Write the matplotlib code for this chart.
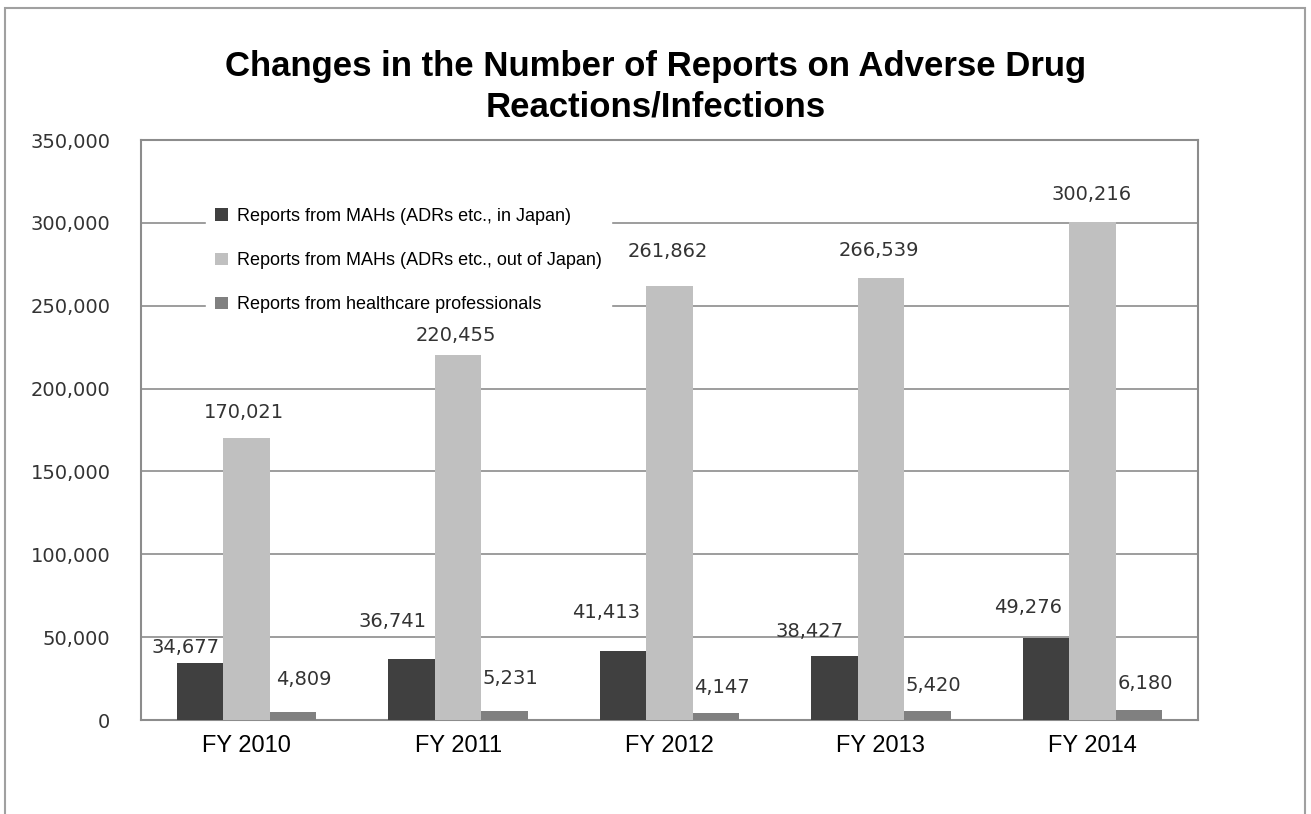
import numpy as np
import matplotlib.pyplot as plt
from matplotlib.patches import Rectangle
from matplotlib.ticker import FuncFormatter

years = ['FY 2010', 'FY 2011', 'FY 2012', 'FY 2013', 'FY 2014']
mah_japan = [34677, 36741, 41413, 38427, 49276]
mah_foreign = [170021, 220455, 261862, 266539, 300216]
hcp = [4809, 5231, 4147, 5420, 6180]
series_names = ['Reports from MAHs (ADRs etc., in Japan)',
                'Reports from MAHs (ADRs etc., out of Japan)',
                'Reports from healthcare professionals']
colors = ['#404040', '#c0c0c0', '#808080']

# hand-placed label offsets in pixels (dx, dy) per series
label_dx = [[-15, -19, -17, -25, -18],
            [-3, -2, -2, -2, -1],
            [11, 6, 6, 6, 7]]
label_dy = [[15, 38, 39, 25, 31],
            [26, 19, 35, 28, 28],
            [33, 33, 26, 26, 26]]

plt.rcParams['font.family'] = ['Liberation Sans', 'DejaVu Sans']
numfont = ['DejaVu Sans']

fig = plt.figure(figsize=(13.11, 8.14), dpi=100)
ax = fig.add_axes([141/1311, 1-720/814, 1057/1311, 580/814])

# outer frame
fig.patches.append(Rectangle((5/1311, -0.1), 1300/1311, 1.1-8/814,
                             transform=fig.transFigure, fill=False,
                             edgecolor='#a0a0a0', lw=1.5))

x = np.arange(len(years))
w = 0.22
series = [mah_japan, mah_foreign, hcp]
for k, vals in enumerate(series):
    xs = x + (k - 1) * w
    ax.bar(xs, vals, width=w, color=colors[k], label=series_names[k], zorder=3)
    for i, (xi, v) in enumerate(zip(xs, vals)):
        ax.annotate(f'{v:,}', (xi, v), xytext=(label_dx[k][i], label_dy[k][i]),
                    textcoords='offset pixels', ha='center', va='center',
                    fontsize=14, family=numfont, color='#333333')

ax.set_xlim(-0.5, len(years) - 0.5)
ax.set_ylim(0, 350000)
ax.set_yticks(np.arange(0, 350001, 50000))
ax.yaxis.set_major_formatter(FuncFormatter(lambda v, p: f'{int(v):,}'))
ax.set_xticks(x)
ax.set_xticklabels(years, fontsize=17)
for t in ax.get_yticklabels():
    t.set_fontfamily(numfont)
    t.set_fontsize(14)
    t.set_color('#333333')
ax.tick_params(length=0)
ax.tick_params(axis='y', pad=22)
ax.tick_params(axis='x', pad=11)
ax.grid(axis='y', color='#8c8c8c', lw=1.2, zorder=0)
for s in ax.spines.values():
    s.set_color('#8c8c8c')
    s.set_linewidth(1.5)

leg = ax.legend(loc='upper left', bbox_to_anchor=(56/1057, 1-50/580),
                frameon=True, fontsize=13, handlelength=0.7, handleheight=0.7,
                handletextpad=0.5, labelspacing=1.5, borderpad=0.5)
leg.get_frame().set_edgecolor('white')
leg.get_frame().set_facecolor('white')
leg.get_frame().set_alpha(1)
leg.set_zorder(5)

fig.text(0.5, 1-87/814, 'Changes in the Number of Reports on Adverse Drug\nReactions/Infections',
         ha='center', va='center', fontsize=25, fontweight='bold', linespacing=1.3)

fig.savefig('out.png', dpi=100)
